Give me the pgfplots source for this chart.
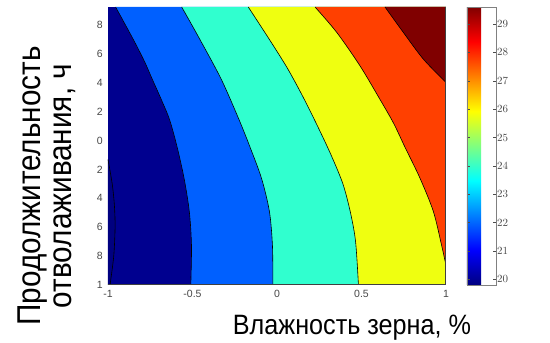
\documentclass[border=0pt]{standalone}
\usepackage{pgfplots}
\pgfplotsset{compat=1.18}
\usepackage{fontspec}
\setmainfont{Liberation Sans}
\newfontfamily\labelfont[FakeStretch=0.9]{Liberation Sans}
\definecolor{c0}{RGB}{0,0,128}
\definecolor{c1}{RGB}{0,0,143}
\definecolor{c2}{RGB}{0,96,255}
\definecolor{c3}{RGB}{48,255,207}
\definecolor{c4}{RGB}{239,255,16}
\definecolor{c5}{RGB}{255,64,0}
\definecolor{c6}{RGB}{128,0,0}
\definecolor{ticktext}{RGB}{70,70,70}
\begin{document}
\begin{tikzpicture}
\useasboundingbox (-108pt,-58pt) rectangle (442pt,285pt);
\begin{axis}[
  at={(0pt,0pt)}, anchor=south west,
  scale only axis, width=338pt, height=278pt,
  xmin=-1, xmax=1, ymin=-1, ymax=0.925,
  axis line style={draw=none},
  xtick={-1,-0.5,0,0.5,1}, xticklabels={-1,-0.5,0,0.5,1},
  ytick={-1,-0.8,-0.6,-0.4,-0.2,0,0.2,0.4,0.6,0.8},
  yticklabels={1,8,6,4,2,0,2,4,6,8},
  major tick length=0pt,
  tick label style={font=\fontsize{10.5}{12}\selectfont, text=ticktext},
  xticklabel style={inner sep=0pt, yshift=-5pt},
  yticklabel style={inner sep=0pt, xshift=-5pt},
  point meta min=19.8, point meta max=29.6,
  colormap/jet,
  colorbar,
  colorbar shift/.style={xshift=21pt},
  colorbar style={
    at={(parent axis.north east)}, anchor=north west,
    width=29pt,
    ytick={20,21,22,23,24,25,26,27,28,29},
    yticklabel pos=right, ytick pos=both,
    tick align=inside, major tick length=3pt,
    axis line style={draw=gray},
    tick style={draw=black!70},
    yticklabel style={font=\fontsize{11}{12}\selectfont, text=ticktext, inner sep=1pt},
  },
  every axis plot/.append style={mark=none},
]
% base band
\addplot[fill=c1, draw=none] coordinates {(-1,-1) (1,-1) (1,0.925) (-1,0.925)};
% lowest pocket at the left edge
\addplot[fill=c0, draw=none, smooth] coordinates {(-1,-0.13) (-0.975,-0.3) (-0.962,-0.45) (-0.958,-0.6) (-0.966,-0.8) (-0.988,-1)} -- (axis cs:-1,-1) -- cycle;
% band 2
\addplot[fill=c2, draw=none, smooth] coordinates {(-0.955,0.925) (-0.852,0.704) (-0.785,0.55) (-0.738,0.425) (-0.683,0.28) (-0.636,0.146) (-0.593,-0.035) (-0.55,-0.26) (-0.519,-0.49) (-0.506,-0.725) (-0.51,-1)} -- (axis cs:1,-1) -- (axis cs:1,0.925) -- cycle;
% band 3
\addplot[fill=c3, draw=none, smooth] coordinates {(-0.564,0.925) (-0.458,0.704) (-0.33,0.425) (-0.225,0.146) (-0.163,-0.035) (-0.092,-0.26) (-0.045,-0.49) (-0.027,-0.725) (-0.024,-1)} -- (axis cs:1,-1) -- (axis cs:1,0.925) -- cycle;
% band 4
\addplot[fill=c4, draw=none, smooth] coordinates {(-0.17,0.925) (-0.045,0.7) (0.062,0.5) (0.155,0.3) (0.24,0.1) (0.32,-0.1) (0.39,-0.3) (0.435,-0.5) (0.465,-0.7) (0.482,-1)} -- (axis cs:1,-1) -- (axis cs:1,0.925) -- cycle;
% band 5
\addplot[fill=c5, draw=none, smooth] coordinates {(0.225,0.925) (0.353,0.75) (0.491,0.518) (0.609,0.286) (0.69,0.12) (0.755,-0.04) (0.846,-0.26) (0.925,-0.49) (0.974,-0.725) (1,-0.864)} -- (axis cs:1,0.925) -- cycle;
% band 6
\addplot[fill=c6, draw=none, smooth] coordinates {(0.639,0.925) (0.747,0.75) (0.866,0.564) (1,0.402)} -- (axis cs:1,0.925) -- cycle;
% contour lines
\addplot[black, line width=0.6pt, smooth] coordinates {(-1,-0.13) (-0.975,-0.3) (-0.962,-0.45) (-0.958,-0.6) (-0.966,-0.8) (-0.988,-1)};
\addplot[black, line width=0.6pt, smooth] coordinates {(-0.955,0.925) (-0.852,0.704) (-0.785,0.55) (-0.738,0.425) (-0.683,0.28) (-0.636,0.146) (-0.593,-0.035) (-0.55,-0.26) (-0.519,-0.49) (-0.506,-0.725) (-0.51,-1)};
\addplot[black, line width=0.6pt, smooth] coordinates {(-0.564,0.925) (-0.458,0.704) (-0.33,0.425) (-0.225,0.146) (-0.163,-0.035) (-0.092,-0.26) (-0.045,-0.49) (-0.027,-0.725) (-0.024,-1)};
\addplot[black, line width=0.6pt, smooth] coordinates {(-0.17,0.925) (-0.045,0.7) (0.062,0.5) (0.155,0.3) (0.24,0.1) (0.32,-0.1) (0.39,-0.3) (0.435,-0.5) (0.465,-0.7) (0.482,-1)};
\addplot[black, line width=0.6pt, smooth] coordinates {(0.225,0.925) (0.353,0.75) (0.491,0.518) (0.609,0.286) (0.69,0.12) (0.755,-0.04) (0.846,-0.26) (0.925,-0.49) (0.974,-0.725) (1,-0.864)};
\addplot[black, line width=0.6pt, smooth] coordinates {(0.639,0.925) (0.747,0.75) (0.866,0.564) (1,0.402)};
\draw[black!75, line width=1pt] (rel axis cs:0,0) -- (rel axis cs:1,0) -- (rel axis cs:1,1);
\end{axis}
\node[font={\labelfont\fontsize{28}{33}\selectfont}, anchor=base, inner sep=0pt] at (244pt,-50pt) {Влажность зерна, \%};
\node[font={\labelfont\fontsize{33}{31}\selectfont}, rotate=90, align=center, inner sep=0pt] at (-61pt,99pt) {Продолжительность\\отволаживания, ч};
\end{tikzpicture}
\end{document}
